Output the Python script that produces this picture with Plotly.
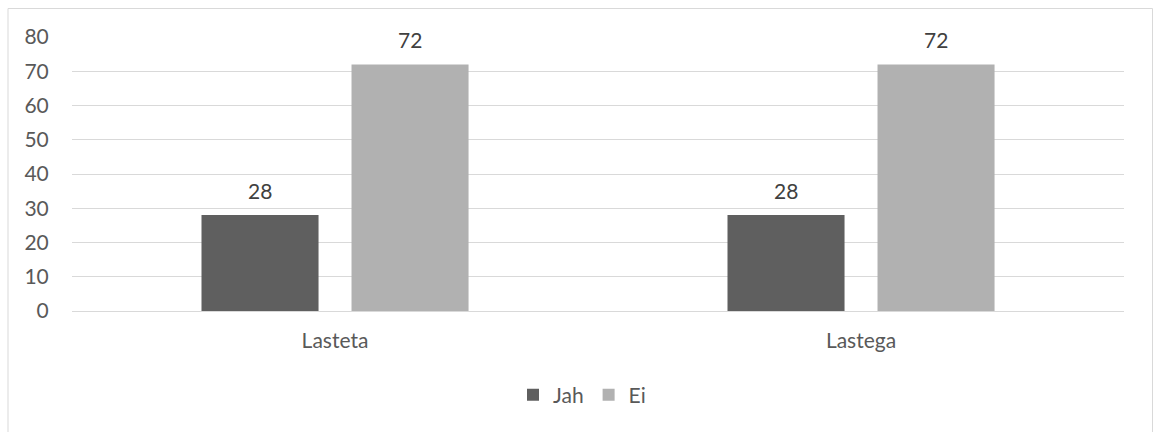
import plotly.graph_objects as go

categories = ["Lasteta", "Lastega"]
jah_values = [28, 28]
ei_values = [72, 72]
series_names = ["Jah", "Ei"]
y_ticks = [0, 10, 20, 30, 40, 50, 60, 70, 80]

FONT = "Lato, 'Open Sans', sans-serif"
TXT = "#595959"
FS = 21

fig = go.Figure()
fig.add_trace(go.Bar(x=categories, y=jah_values, name=series_names[0],
                     marker=dict(color="#5f5f5f", line=dict(width=0)),
                     width=0.2225, offset=-0.2538))
fig.add_trace(go.Bar(x=categories, y=ei_values, name=series_names[1],
                     marker=dict(color="#b1b1b1", line=dict(width=0)),
                     width=0.2225, offset=0.0314))

annotations = []
for i, c in enumerate(categories):
    for vals, off in ((jah_values, -0.2538), (ei_values, 0.0314)):
        annotations.append(dict(x=i + off + 0.2225 / 2, y=vals[i], xref="x", yref="y",
                                text=str(vals[i]), showarrow=False, yshift=25,
                                font=dict(family=FONT, size=FS, color="#404040")))

fig.update_layout(
    width=1154, height=432,
    margin=dict(l=72, r=30, t=37, b=121),
    paper_bgcolor="white", plot_bgcolor="white",
    barmode="overlay",
    showlegend=True,
    legend=dict(orientation="h", x=0.5 - 16 / 1052, xanchor="center",
                y=(311 - 395) / 274, yanchor="middle",
                font=dict(family=FONT, size=FS, color=TXT), itemwidth=30,
                traceorder="normal"),
    annotations=annotations,
    font=dict(family=FONT, size=FS, color=TXT),
    xaxis=dict(type="category", range=[-0.5, 1.5], showgrid=False, showline=False,
               ticks="outside", ticklen=11, tickcolor="rgba(0,0,0,0)",
               tickfont=dict(family=FONT, size=FS, color=TXT),
               fixedrange=True),
    yaxis=dict(range=[0, 80], tickvals=y_ticks, showgrid=True, gridcolor="#d9d9d9",
               gridwidth=1, zeroline=True, zerolinecolor="#d9d9d9", zerolinewidth=1,
               showline=False, ticks="outside", ticklen=18, tickcolor="rgba(0,0,0,0)",
               tickfont=dict(family=FONT, size=FS, color=TXT)),
    shapes=[dict(type="rect", xref="paper", yref="paper",
                 x0=(8 - 72) / 1052, x1=(1152.5 - 72) / 1052,
                 y0=(311 - 440) / 274, y1=(311 - 8.5) / 274,
                 line=dict(color="#d9d9d9", width=1), fillcolor="rgba(0,0,0,0)",
                 layer="below")],
)

fig.write_html("out.html")
